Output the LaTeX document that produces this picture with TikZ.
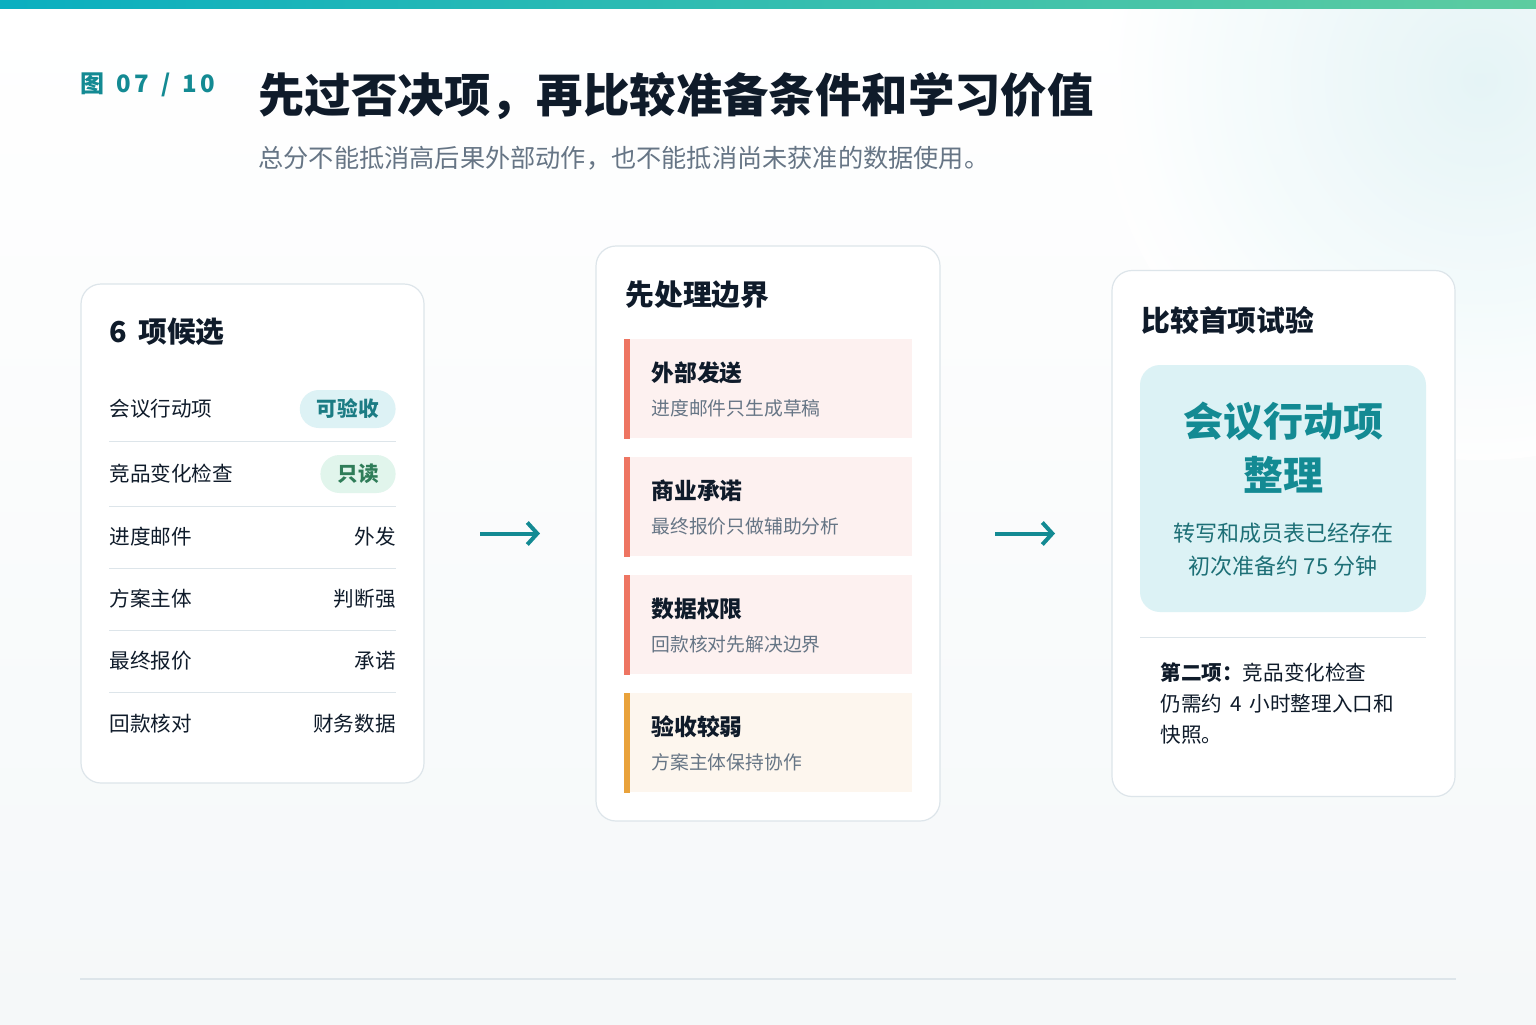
\documentclass[tikz,border=0pt]{standalone}
\usepackage{fontspec}
\setmainfont{Noto Sans CJK SC}
\usetikzlibrary{positioning, arrows.meta}
\definecolor{ink}{HTML}{0F1B2A}
\definecolor{muted}{HTML}{667585}
\definecolor{accent}{HTML}{138A93}
\definecolor{accentdark}{HTML}{1D6F76}
\definecolor{rule}{HTML}{DDE5EA}
\definecolor{warn}{HTML}{EE7562}
\definecolor{amber}{HTML}{E9A23B}
\definecolor{warnbg}{HTML}{FDF1F0}
\definecolor{amberbg}{HTML}{FDF6EE}
\definecolor{cyanbg}{HTML}{DCF2F5}
\definecolor{okbg}{HTML}{DDF2F5}
\definecolor{oktext}{HTML}{1C7C84}
\definecolor{robg}{HTML}{E1F5EC}
\definecolor{rotext}{HTML}{2F7D59}
\definecolor{barleft}{HTML}{0AAFC0}
\definecolor{barright}{HTML}{5DCCA0}
\definecolor{glow}{HTML}{E3F4F6}
\definecolor{paper}{HTML}{F5F8F9}

\begin{document}
\begin{tikzpicture}[x=0.5pt, y=-0.5pt, >={Straight Barb[length=5pt, width=11pt]},
  card/.style={draw=rule, fill=white, rounded corners=10pt, line width=0.6pt, inner sep=0pt, outer sep=0pt},
  cardhead/.style={anchor=west, inner sep=0pt, font=\fontsize{14.4}{16}\selectfont\bfseries, text=ink},
  candrow/.style={anchor=west, inner sep=0pt, font=\fontsize{10.3}{12}\selectfont, text=ink},
  candval/.style={candrow, anchor=east},
  pillbox/.style={anchor=east, rounded corners=9.5pt, inner xsep=8.5pt, inner ysep=0pt, minimum height=19pt, font=\fontsize{10.3}{12}\selectfont\bfseries},
  boxitem/.style={fill=warnbg, minimum width=144pt, minimum height=49.5pt, inner sep=0pt, anchor=north west},
  itemtitle/.style={anchor=west, inner sep=0pt, font=\fontsize{11.4}{13}\selectfont\bfseries, text=ink},
  itemnote/.style={anchor=west, inner sep=0pt, font=\fontsize{9.4}{11}\selectfont, text=muted},
  flow/.style={->, draw=accent, line width=2pt}]

  \useasboundingbox (0,0) rectangle (1536,1024);
  \clip (0,0) rectangle (1536,1024);

  % Backdrop
  \shade[top color=white, bottom color=paper] (0,0) rectangle (1536,1024);
  \shade[inner color=glow, outer color=white, opacity=0.9] (1480,80) circle (190pt);
  \shade[left color=barleft, right color=barright] (0,0) rectangle (1536,8);
  \draw[rule, line width=0.6pt] (80,979) -- (1456,979);

  % Heading
  \node[anchor=west, inner sep=0pt, text=accent, font=\fontsize{12}{14}\selectfont\bfseries\addfontfeature{LetterSpace=12}] (fig) at (80,85) {图\ \,07\ \,/\ \,10};
  \node[anchor=west, inner sep=0pt, text=ink, font=\fontsize{23.2}{26}\selectfont\bfseries] (title) at (258,96) {先过否决项，再比较准备条件和学习价值};
  \node[anchor=west, inner sep=0pt, text=muted, font=\fontsize{12.6}{15}\selectfont] (sub) at (258,158) {总分不能抵消高后果外部动作，也不能抵消尚未获准的数据使用。};

  % Cards
  \node[card, minimum width=171.5pt, minimum height=249.5pt] (cand) at (252.5,533.5) {};
  \node[card, minimum width=172pt, minimum height=287.5pt] (bound) [right=86pt of cand] {};
  \node[card, minimum width=171.5pt, minimum height=263pt] (trial) [right=86pt of bound] {};

  % Candidates
  \node[cardhead] (candhead) at (109,332) {6\ \,项候选};
  \node[candrow] (r1) at (109,409) {会议行动项};
  \node[pillbox, fill=okbg, text=oktext] (p1) at (396,409) {可验收};
  \node[candrow] (r2) at (109,474) {竞品变化检查};
  \node[pillbox, fill=robg, text=rotext] (p2) at (396,474) {只读};
  \node[candrow] (r3) at (109,537) {进度邮件};
  \node[candval] (v3) at (396,537) {外发};
  \node[candrow] (r4) at (109,599) {方案主体};
  \node[candval] (v4) at (396,599) {判断强};
  \node[candrow] (r5) at (109,661) {最终报价};
  \node[candval] (v5) at (396,661) {承诺};
  \node[candrow] (r6) at (109,724) {回款核对};
  \node[candval] (v6) at (396,724) {财务数据};
  \draw[rule] (109,441) -- (396,441);
  \draw[rule] (109,506) -- (396,506);
  \draw[rule] (109,568) -- (396,568);
  \draw[rule] (109,630) -- (396,630);
  \draw[rule] (109,692) -- (396,692);

  % Boundaries
  \node[cardhead] (boundhead) at (625,295) {先处理边界};
  \node[boxitem] (b1) at (624,339) {};
  \fill[warn] (b1.north west) rectangle ([xshift=3pt]b1.south west);
  \node[itemtitle] at (651,373) {外部发送};
  \node[itemnote] at (651,408) {进度邮件只生成草稿};
  \node[boxitem] (b2) at (624,457) {};
  \fill[warn] (b2.north west) rectangle ([xshift=3pt]b2.south west);
  \node[itemtitle] at (651,491) {商业承诺};
  \node[itemnote] at (651,526) {最终报价只做辅助分析};
  \node[boxitem] (b3) at (624,575) {};
  \fill[warn] (b3.north west) rectangle ([xshift=3pt]b3.south west);
  \node[itemtitle] at (651,609) {数据权限};
  \node[itemnote] at (651,644) {回款核对先解决边界};
  \node[boxitem, fill=amberbg] (b4) at (624,693) {};
  \fill[amber] (b4.north west) rectangle ([xshift=3pt]b4.south west);
  \node[itemtitle] at (651,727) {验收较弱};
  \node[itemnote] at (651,762) {方案主体保持协作};

  % Trial
  \node[cardhead] (trialhead) at (1141,320) {比较首项试验};
  \node[fill=cyanbg, rounded corners=10pt, minimum width=143pt, minimum height=123.5pt, inner sep=0pt] (pick) at (1283,488.5) {};
  \node[text=accent, inner sep=0pt, font=\fontsize{20}{24}\selectfont\bfseries] (pick1) at (1283,421) {会议行动项};
  \node[text=accent, inner sep=0pt, font=\fontsize{20}{24}\selectfont\bfseries] (pick2) at (1283,475) {整理};
  \node[text=accentdark, inner sep=0pt, font=\fontsize{11}{13}\selectfont] (pick3) at (1283,533) {转写和成员表已经存在};
  \node[text=accentdark, inner sep=0pt, font=\fontsize{11}{13}\selectfont] (pick4) at (1283,566) {初次准备约\ 75\ 分钟};
  \draw[rule] (1140,637) -- (1426,637);
  \node[anchor=west, inner sep=0pt, align=left, text=ink, font=\fontsize{10.3}{15.5}\selectfont] (next) at (1160,703)
    {\textbf{第二项：}竞品变化检查\\仍需约\ \,4\ \,小时整理入口和\\快照。};

  % Flow
  \draw[flow] ([xshift=28pt]cand.east) -- ([xshift=-28pt]bound.west);
  \draw[flow] ([xshift=27.5pt]bound.east) -- ([xshift=-28.5pt]trial.west);

\end{tikzpicture}
\end{document}
